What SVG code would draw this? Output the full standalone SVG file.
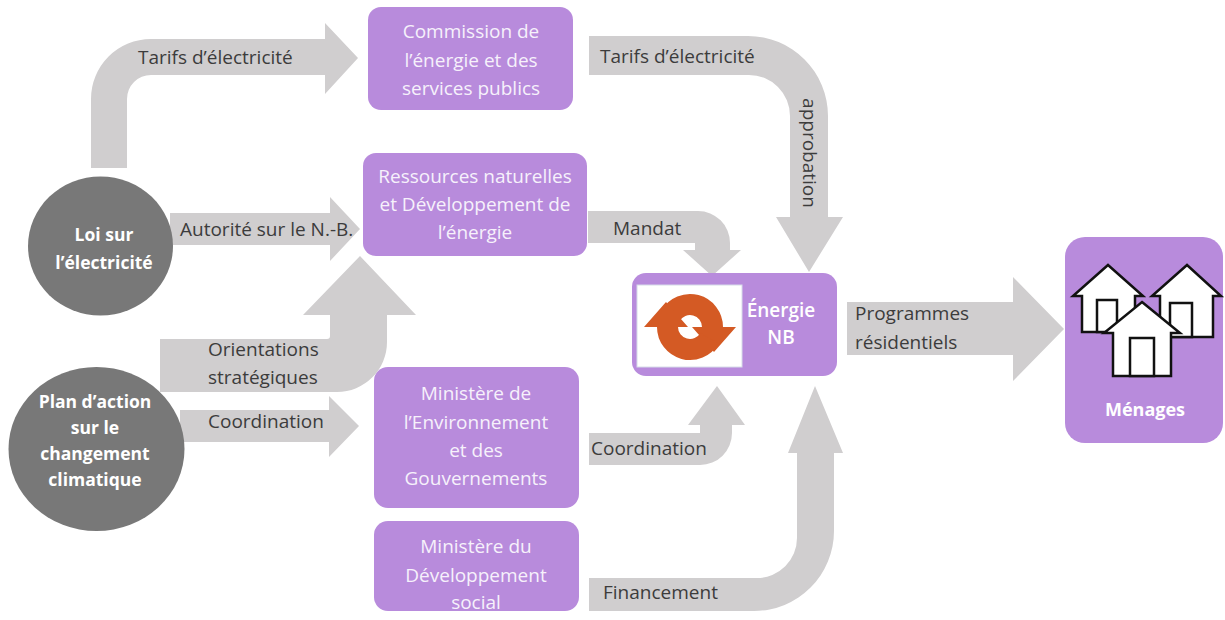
<svg xmlns="http://www.w3.org/2000/svg" width="1225" height="620" viewBox="0 0 1225 620">
<style>
.arrow{fill:#d0cecf;stroke:none}
.lbl{font-family:"Open Sans","Liberation Sans",sans-serif;font-size:19px;fill:#3c3c3c}
.box{fill:#b88bdc}
.btxt{font-family:"Open Sans","Liberation Sans",sans-serif;font-size:19px;fill:#f6f1fb;text-anchor:middle}
.circ{fill:#787878}
.ctxt{font-family:"Open Sans","Liberation Sans",sans-serif;font-size:17.5px;font-weight:700;fill:#ffffff;text-anchor:middle}
.house{fill:#ffffff;stroke:#111111;stroke-width:2.5;stroke-linejoin:miter}
.icon{fill:#d45a24}
</style>
<rect width="1225" height="620" fill="#ffffff"/>
<g id="connectors">
  <g id="c-loi-commission">
    <path class="arrow" d="M91,168 L91,99 A60,60 0 0 1 151,39 L325,39 L325,23 L358,58 L325,94 L325,75 L151,75 A24,24 0 0 0 127,99 L127,168 Z"/>
    <text class="lbl" x="138" y="64">Tarifs d’électricité</text>
  </g>
  <g id="c-loi-ressources">
    <path class="arrow" d="M170,213 L330,213 L330,197 L360,229 L330,261 L330,245 L170,245 Z"/>
    <text class="lbl" x="180" y="236">Autorité sur le N.-B.</text>
  </g>
  <g id="c-plan-ressources">
    <path class="arrow" d="M160,339 L327,339 A3,3 0 0 0 330,336 L330,315 L303,315 L360,256 L416,315 L387,315 L387,342 A50,50 0 0 1 337,392 L160,392 Z"/>
    <text class="lbl" x="208" y="356">Orientations</text>
    <text class="lbl" x="208" y="384">stratégiques</text>
  </g>
  <g id="c-plan-env">
    <path class="arrow" d="M180,410 L329,410 L329,396 L359,426 L329,457 L329,442 L180,442 Z"/>
    <text class="lbl" x="208" y="428">Coordination</text>
  </g>
  <g id="c-commission-energie">
    <path class="arrow" d="M589,36 L748,36 A80,80 0 0 1 828,116 L828,217 L843,217 L809,272 L776,217 L790,217 L790,116 A41,41 0 0 0 749,75 L589,75 Z"/>
    <text class="lbl" x="600" y="63">Tarifs d’électricité</text>
    <text class="lbl" transform="translate(803,153) rotate(90)" text-anchor="middle">approbation</text>
  </g>
  <g id="c-ressources-energie">
    <path class="arrow" d="M588,211 L698,211 A32,32 0 0 1 730,243 L730,250 L741,250 L712,276 L683,250 L695,250 L695,243 L588,243 Z"/>
    <text class="lbl" x="613" y="235">Mandat</text>
  </g>
  <g id="c-env-energie">
    <path class="arrow" d="M589,433 L700,433 L700,425 L688,425 L717,386 L745,425 L732,425 L732,433 A32,32 0 0 1 700,465 L589,465 Z"/>
    <text class="lbl" x="591" y="455">Coordination</text>
  </g>
  <g id="c-social-energie">
    <path class="arrow" d="M589,578 L757,578 A40,40 0 0 0 797,538 L797,453 L788,453 L815,386 L843,453 L834,453 L834,531 A80,80 0 0 1 754,611 L589,611 Z"/>
    <text class="lbl" x="603" y="599">Financement</text>
  </g>
  <g id="c-energie-menages">
    <path class="arrow" d="M847,302 L1013,302 L1013,277 L1064,329 L1013,381 L1013,355 L847,355 Z"/>
    <text class="lbl" x="855" y="320">Programmes</text>
    <text class="lbl" x="855" y="349">résidentiels</text>
  </g>
</g>
<g id="node-loi">
  <ellipse class="circ" cx="100.5" cy="246" rx="72.5" ry="69.5"/>
  <text class="ctxt" x="104" y="241">Loi sur</text>
  <text class="ctxt" x="104" y="269">l’électricité</text>
</g>
<g id="node-plan">
  <ellipse class="circ" cx="96.5" cy="449" rx="88" ry="82"/>
  <text class="ctxt" x="95" y="408">Plan d’action</text>
  <text class="ctxt" x="95" y="434">sur le</text>
  <text class="ctxt" x="95" y="460">changement</text>
  <text class="ctxt" x="95" y="486">climatique</text>
</g>
<g id="node-commission">
  <rect class="box" x="368" y="7" width="205" height="103" rx="13"/>
  <text class="btxt" x="471" y="38">Commission de</text>
  <text class="btxt" x="471" y="67">l’énergie et des</text>
  <text class="btxt" x="471" y="95">services publics</text>
</g>
<g id="node-ressources">
  <rect class="box" x="363" y="153" width="224" height="103" rx="13"/>
  <text class="btxt" x="475" y="183">Ressources naturelles</text>
  <text class="btxt" x="475" y="211">et Développement de</text>
  <text class="btxt" x="475" y="239">l’énergie</text>
</g>
<g id="node-environnement">
  <rect class="box" x="374" y="367" width="205" height="141" rx="14"/>
  <text class="btxt" x="476" y="400">Ministère de</text>
  <text class="btxt" x="476" y="429">l’Environnement</text>
  <text class="btxt" x="476" y="457">et des</text>
  <text class="btxt" x="476" y="485">Gouvernements</text>
</g>
<g id="node-social">
  <rect class="box" x="374" y="521" width="205" height="90" rx="14"/>
  <text class="btxt" x="476" y="553">Ministère du</text>
  <text class="btxt" x="476" y="582">Développement</text>
  <text class="btxt" x="476" y="609">social</text>
</g>
<g id="node-energie-nb">
  <rect class="box" x="632" y="273" width="205" height="103" rx="14"/>
  <rect x="637" y="285" width="105" height="82" fill="#ffffff" stroke="#d6dce8" stroke-width="1"/>
  <path class="icon" d="M661.4,310.5 A33,33 0 0 1 723,327 L736,327 L714,352 L692,327 L702,327 A12,12 0 0 0 679.6,321 Z"/>
  <path class="icon" d="M718.6,343.5 A33,33 0 0 1 657,327 L644,327 L666,302 L688,327 L678,327 A12,12 0 0 0 700.4,333 Z"/>
  <text x="781" y="317" font-family="Open Sans, Liberation Sans, sans-serif" font-size="19" font-weight="600" fill="#ffffff" text-anchor="middle">Énergie</text>
  <text x="781" y="344" font-family="Open Sans, Liberation Sans, sans-serif" font-size="19" font-weight="600" fill="#ffffff" text-anchor="middle">NB</text>
</g>
<g id="node-menages">
  <rect class="box" x="1065" y="237" width="158" height="206" rx="20"/>
  <polygon class="house" points="1108,265 1143,296 1135,296 1135,332 1082,332 1082,296 1073,296"/>
  <rect class="house" x="1097" y="300" width="20" height="32"/>
  <polygon class="house" points="1187,265 1221,296 1213,296 1213,337 1160,337 1160,296 1152,296"/>
  <rect class="house" x="1170" y="303" width="22" height="34"/>
  <polygon class="house" points="1142,302 1180,333 1171,333 1171,376 1113,376 1113,333 1104,333"/>
  <rect class="house" x="1130" y="338" width="24" height="38"/>
  <text x="1145" y="416" font-family="Open Sans, Liberation Sans, sans-serif" font-size="18" font-weight="700" fill="#ffffff" text-anchor="middle">Ménages</text>
</g>
</svg>
